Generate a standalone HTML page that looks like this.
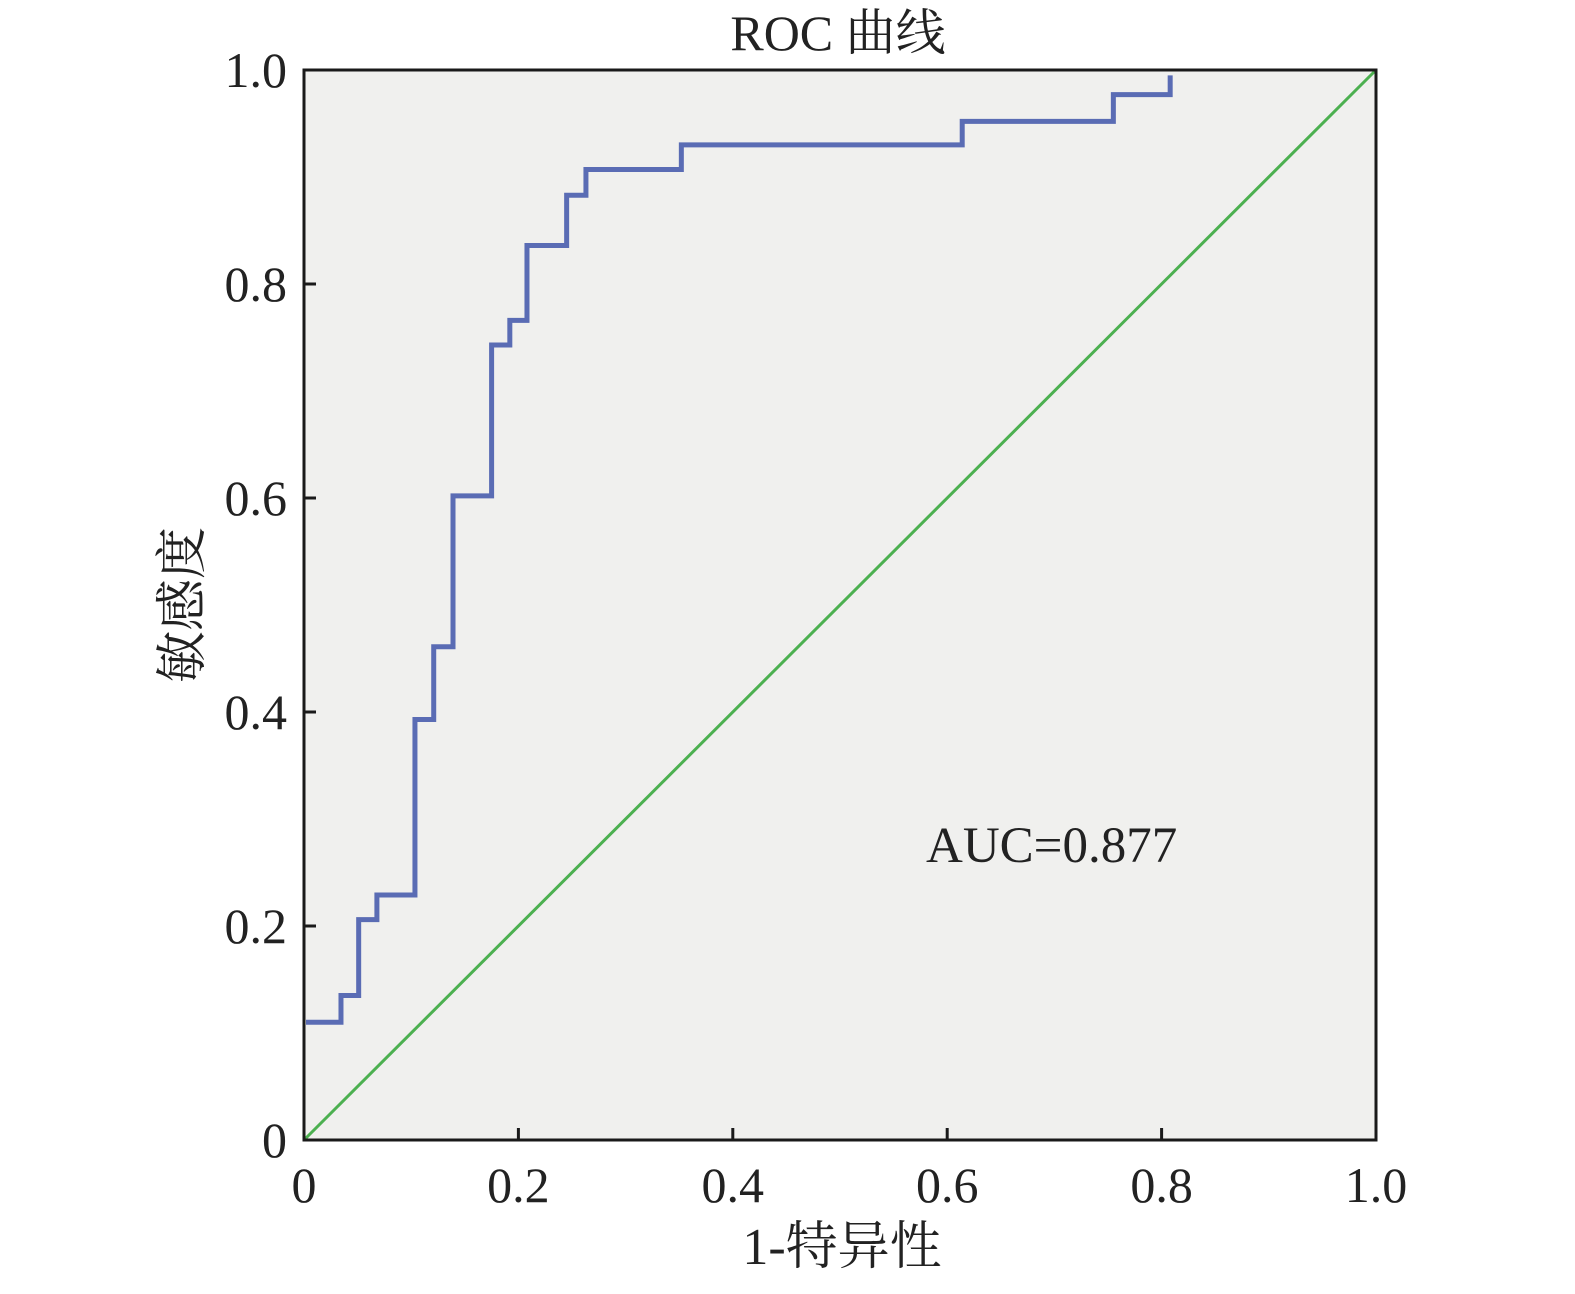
<!DOCTYPE html>
<html><head><meta charset="utf-8"><style>
body{margin:0;background:#fff;}
svg text{font-family:"Liberation Serif","Noto Serif CJK SC",serif;fill:#222;}
</style></head><body>
<svg id="chart" width="1575" height="1289" viewBox="0 0 1575 1289" xmlns="http://www.w3.org/2000/svg">
<rect x="304" y="70" width="1072" height="1070" fill="#f0f0ee"/>
<g id="marks"></g>
<rect x="304" y="70" width="1072" height="1070" fill="none" stroke="#1a1a1a" stroke-width="3"/>
<g id="ticks"></g>
<text x="838" y="50" font-size="50" text-anchor="middle">ROC 曲线</text>
<text x="842" y="1264" font-size="52" text-anchor="middle">1-特异性</text>
<text transform="translate(200,605) rotate(-90)" font-size="52" text-anchor="middle">敏感度</text>
<text x="926" y="862" font-size="51">AUC=0.877</text>
</svg>
<script>
const stepX = [0, 0.0345, 0.051, 0.068, 0.1035, 0.121, 0.139, 0.175, 0.192, 0.208, 0.245, 0.263, 0.352, 0.614, 0.755, 0.808];
const stepY = [0.110, 0.135, 0.206, 0.229, 0.393, 0.461, 0.602, 0.743, 0.766, 0.836, 0.883, 0.907, 0.930, 0.952, 0.977, 0.995];
const tickValues = [0, 0.2, 0.4, 0.6, 0.8, 1.0];
const tickLabels = ["0", "0.2", "0.4", "0.6", "0.8", "1.0"];
const X0=304, X1=1376, Y0=1140, Y1=70;
const sx = v => X0 + v*(X1-X0);
const sy = v => Y0 - v*(Y0-Y1);
const NS="http://www.w3.org/2000/svg";
const marks=document.getElementById('marks');
const ticks=document.getElementById('ticks');
const diag=document.createElementNS(NS,'line');


diag.setAttribute('x1',sx(0));diag.setAttribute('y1',sy(0));
diag.setAttribute('x2',sx(1));diag.setAttribute('y2',sy(1));
diag.setAttribute('stroke','#4cb050');diag.setAttribute('stroke-width','3');
marks.appendChild(diag);
let d='M'+(sx(stepX[0])+2)+' '+sy(stepY[0]);
for(let i=1;i<stepX.length;i++){
  d+=' H'+sx(stepX[i])+' V'+sy(stepY[i]);
}
const roc=document.createElementNS(NS,'path');


roc.setAttribute('d',d);
roc.setAttribute('fill','none');roc.setAttribute('stroke','#5a6cb4');roc.setAttribute('stroke-width','5');
marks.appendChild(roc);
for(let i=0;i<tickValues.length;i++){
  const v=tickValues[i];
  const xt=document.createElementNS(NS,'line');
  
  
  xt.setAttribute('x1',sx(v));xt.setAttribute('x2',sx(v));xt.setAttribute('y1',Y0);xt.setAttribute('y2',Y0-12);
  xt.setAttribute('stroke','#1a1a1a');xt.setAttribute('stroke-width','3');
  ticks.appendChild(xt);
  const yt=document.createElementNS(NS,'line');
  
  
  yt.setAttribute('x1',X0);yt.setAttribute('x2',X0+12);yt.setAttribute('y1',sy(v));yt.setAttribute('y2',sy(v));
  yt.setAttribute('stroke','#1a1a1a');yt.setAttribute('stroke-width','3');
  ticks.appendChild(yt);
  const xl=document.createElementNS(NS,'text');
  
  
  xl.setAttribute('x',sx(v));xl.setAttribute('y',1202);xl.setAttribute('font-size','50');xl.setAttribute('text-anchor','middle');
  xl.textContent=tickLabels[i];
  ticks.appendChild(xl);
  const yl=document.createElementNS(NS,'text');
  
  
  yl.setAttribute('x',287);yl.setAttribute('y',sy(v)+17);yl.setAttribute('font-size','50');yl.setAttribute('text-anchor','end');
  yl.textContent=tickLabels[i];
  ticks.appendChild(yl);
}
</script>
</body></html>
